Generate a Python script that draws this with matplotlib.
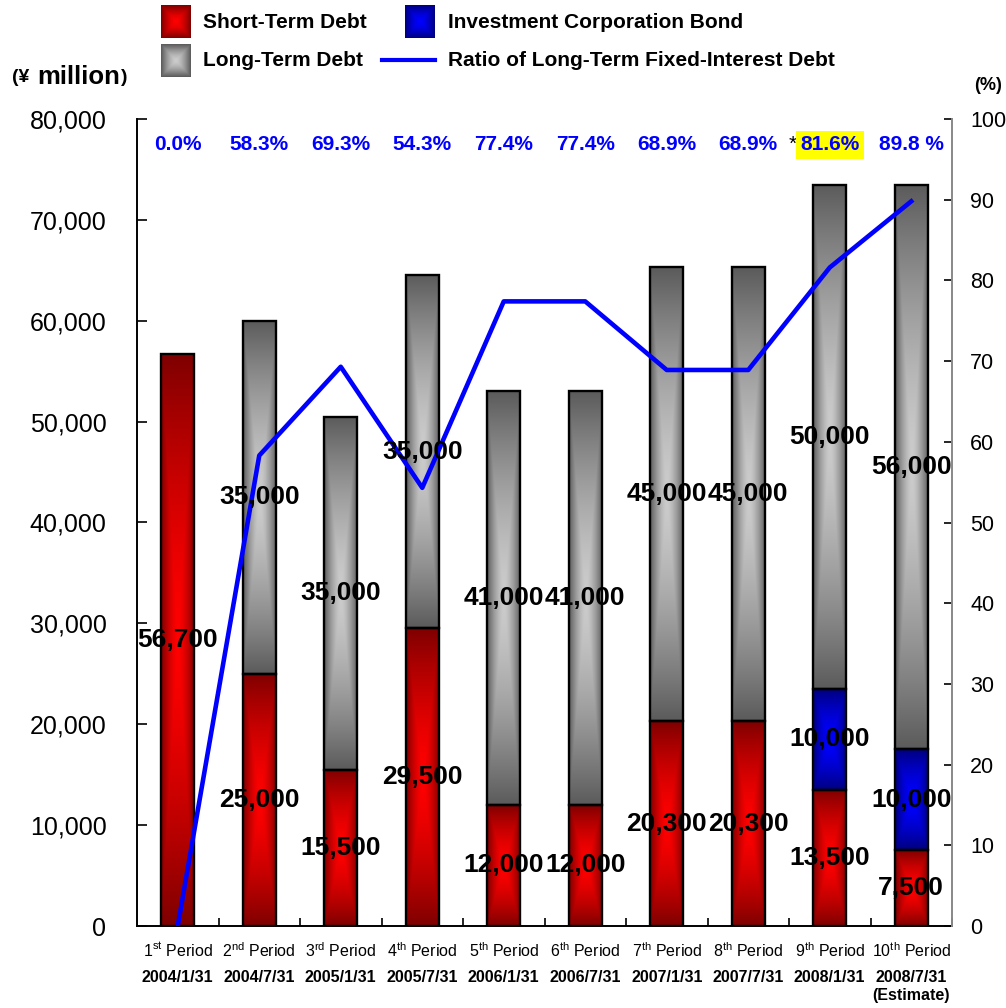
import numpy as np
import matplotlib
matplotlib.use("Agg")
import matplotlib.pyplot as plt
from matplotlib.transforms import blended_transform_factory

plt.rcParams['font.family'] = ['Liberation Sans', 'DejaVu Sans']
plt.rcParams['mathtext.fontset'] = 'custom'
plt.rcParams['mathtext.rm'] = 'Liberation Sans'
plt.rcParams['mathtext.it'] = 'Liberation Sans:italic'
plt.rcParams['mathtext.bf'] = 'Liberation Sans:bold'

# ---- data -------------------------------------------------------------
period_nums = ["1", "2", "3", "4", "5", "6", "7", "8", "9", "10"]
period_sfx = ["st", "nd", "rd", "th", "th", "th", "th", "th", "th", "th"]
dates = ["2004/1/31", "2004/7/31", "2005/1/31", "2005/7/31", "2006/1/31",
         "2006/7/31", "2007/1/31", "2007/7/31", "2008/1/31", "2008/7/31"]
short_term = [56700, 25000, 15500, 29500, 12000, 12000, 20300, 20300, 13500, 7500]
bonds = [0, 0, 0, 0, 0, 0, 0, 0, 10000, 10000]
long_term = [0, 35000, 35000, 35000, 41000, 41000, 45000, 45000, 50000, 56000]
ratio = [0.0, 58.3, 69.3, 54.3, 77.4, 77.4, 68.9, 68.9, 81.6, 89.8]
ratio_labels = ["0.0%", "58.3%", "69.3%", "54.3%", "77.4%", "77.4%",
                "68.9%", "68.9%", "81.6%", "89.8 %"]

RED = ((0.50, 0.0, 0.0), (1.0, 0.0, 0.0))
GRAY = ((0.36, 0.36, 0.36), (0.80, 0.80, 0.80))
BLUE = ((0.0, 0.0, 0.50), (0.0, 0.0, 1.0))


def rect_gradient(dark, light, n=120, m=60, power=1.5):
    """Rectangular gradient: light in the centre, dark towards every edge."""
    u = np.linspace(-1, 1, m)
    v = np.linspace(-1, 1, n)
    t = np.maximum(np.abs(u)[None, :], np.abs(v)[:, None])
    t = t ** power
    dark = np.array(dark)
    light = np.array(light)
    return light[None, None, :] * (1 - t[..., None]) + dark[None, None, :] * t[..., None]


fig = plt.figure(figsize=(10.06, 10.08), dpi=100)
W, H = 1006, 1008
ax = fig.add_axes([137 / W, 82 / H, 815 / W, 807 / H])

x = np.arange(len(short_term))
bw = 0.405
s = np.array(short_term)
b = np.array(bonds)
l = np.array(long_term)

groups = [
    (ax.bar(x, s, bw, facecolor='none', edgecolor='black', lw=1.7, zorder=3), RED),
    (ax.bar(x, b, bw, bottom=s, facecolor='none', edgecolor='black', lw=1.7, zorder=3), BLUE),
    (ax.bar(x, l, bw, bottom=s + b, facecolor='none', edgecolor='black', lw=1.7, zorder=3), GRAY),
]
for bars, (dark, light) in groups:
    for p in bars.patches:
        if p.get_height() <= 0:
            p.set_linewidth(0)
            continue
        x0, y0 = p.get_x(), p.get_y()
        im = ax.imshow(rect_gradient(dark, light), origin='lower', aspect='auto',
                       extent=[x0, x0 + p.get_width(), y0, y0 + p.get_height()],
                       interpolation='bilinear', zorder=2)
        im.set_clip_path(p)

ax.set_xlim(-0.5, len(x) - 0.5)
ax.set_ylim(0, 80000)
ax.set_yticks(np.arange(0, 80001, 10000))
ax.set_yticklabels([f"{v:,}" for v in range(0, 80001, 10000)])
ax.tick_params(axis='y', direction='in', length=7, width=1.2, pad=22, labelsize=18)

ax.set_xticks(x)
ax.set_xticklabels([rf"{n}$^{{\mathrm{{{sfx}}}}}$ Period" for n, sfx in zip(period_nums, period_sfx)])
ax.tick_params(axis='x', which='major', length=0, pad=11, labelsize=11.5)
ax.set_xticks(x + 0.5, minor=True)
ax.tick_params(axis='x', which='minor', direction='in', length=6, width=1.2)

for sp in ['top', 'right']:
    ax.spines[sp].set_visible(False)
ax.spines['left'].set_linewidth(1.4)
ax.spines['bottom'].set_linewidth(1.4)

# date row under the period names
for i, d in enumerate(dates):
    ax.annotate(d, xy=(i, 0), xycoords=('data', 'axes fraction'), xytext=(0, -37),
                textcoords='offset points', ha='center', va='center',
                fontsize=11.5, fontweight='bold')
ax.annotate("(Estimate)", xy=(9, 0), xycoords=('data', 'axes fraction'), xytext=(0, -50),
            textcoords='offset points', ha='center', va='center',
            fontsize=11.5, fontweight='bold')

# ratio axis and line
ax2 = ax.twinx()
ax2.set_ylim(0, 100)
ax2.set_yticks(np.arange(0, 101, 10))
ax2.tick_params(axis='y', direction='in', length=6, width=1.2, pad=13, labelsize=15.5)
ax2.spines['top'].set_visible(False)
ax2.spines['left'].set_visible(False)
ax2.spines['bottom'].set_visible(False)
ax2.spines['right'].set_color('#888888')
ax2.spines['right'].set_linewidth(1.4)
ax2.plot(x, ratio, color='#0000ff', lw=3.3, zorder=4)

# value labels in the middle of each segment
def seg_labels(vals, bottoms):
    for i, (v, bt) in enumerate(zip(vals, bottoms)):
        if v > 0:
            ax2.text(i, bt + v / 2, f"{v:,}", transform=ax.transData,
                     ha='center', va='center', fontsize=19, fontweight='bold', zorder=6)

seg_labels(s, np.zeros_like(s))
seg_labels(b, s)
seg_labels(l, s + b)

# ratio labels along the top
tr = blended_transform_factory(ax.transData, ax.transAxes)
for i, lab in enumerate(ratio_labels):
    kw = {}
    if i == 8:
        kw['bbox'] = dict(boxstyle='square,pad=0.22', fc='#ffff00', ec='none')
    ax2.text(i, 0.968, lab, transform=tr, ha='center', va='center', color='#0000ff',
             fontsize=15, fontweight='bold', zorder=6, **kw)
ax2.annotate("*", xy=(8, 0.968), xycoords=tr, xytext=(-27, 0), textcoords='offset points',
             ha='center', va='center', fontsize=15, color='black')

# axis unit labels
fig.text(12 / W, 1 - 77 / H, "(¥", fontsize=14, fontweight='bold', va='center', ha='left')
fig.text(37 / W, 1 - 77 / H, "million", fontsize=18.5, fontweight='bold', va='center', ha='left')
fig.text(121 / W, 1 - 77 / H, ")", fontsize=14, fontweight='bold', va='center', ha='left')
fig.text(988 / W, 1 - 85 / H, "(%)", fontsize=13, fontweight='bold', va='center', ha='center')

# legend
def swatch(x0, y0, colors):
    sa = fig.add_axes([x0 / W, 1 - (y0 + 33) / H, 30 / W, 33 / H])
    sa.imshow(rect_gradient(*colors, n=40, m=40), aspect='auto', interpolation='bilinear')
    sa.set_axis_off()

swatch(161, 5, RED)
swatch(161, 44, GRAY)
swatch(405, 5, BLUE)
fig.add_artist(plt.Line2D([382 / W, 435 / W], [1 - 60 / H, 1 - 60 / H], color='#0000ff', lw=3))
leg_items = [(203, 22, "Short-Term Debt"), (203, 61, "Long-Term Debt"),
             (448, 22, "Investment Corporation Bond"), (448, 61, "Ratio of Long-Term Fixed-Interest Debt")]
for lx, ly, txt in leg_items:
    fig.text(lx / W, 1 - ly / H, txt, fontsize=15, fontweight='bold', va='center', ha='left')

fig.savefig("out.png", dpi=100)
